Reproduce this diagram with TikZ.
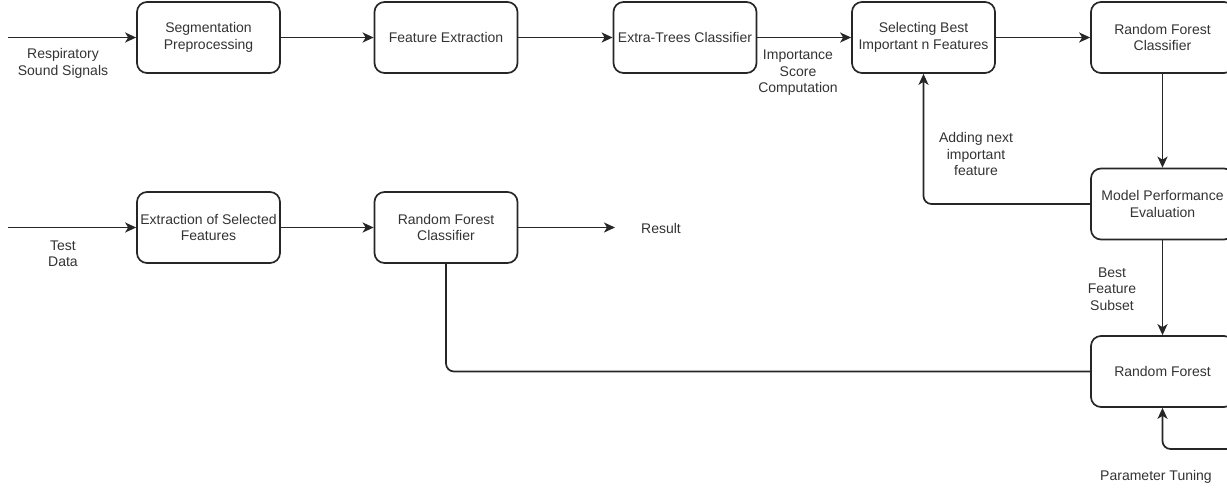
\documentclass[tikz,border=0pt]{standalone}
\usepackage{fontspec}
\setmainfont{Liberation Sans}
\usetikzlibrary{arrows.meta}
\begin{document}
\begin{tikzpicture}[x=1pt,y=-1pt,
  every node/.style={font=\fontsize{14}{16.5}\selectfont, text=black!80},
  box/.style={draw=black!85, line width=1.7pt, rounded corners=10pt, minimum width=143pt, minimum height=71pt, align=center, inner sep=0pt},
  lbl/.style={align=center, inner sep=0pt},
  conn/.style={draw=black!85, line width=1.7pt},
  arr/.style={conn, -{Stealth[length=11pt,width=10pt,inset=3pt]}}]
\useasboundingbox (0,0) rectangle (1227,488);
\begin{scope}
\clip (0,0) rectangle (1227,488);
% top row
\node[box] (seg) at (208.5,37.5) {Segmentation\\Preprocessing};
\node[box] (fe) at (446,37.5) {Feature Extraction};
\node[box] (et) at (685,37.5) {Extra-Trees Classifier};
\node[box] (sel) at (923.5,37.5) {Selecting Best\\Important n Features};
\node[box] (rfc) at (1162.5,37.5) {Random Forest\\Classifier};
% right column
\node[box] (mpe) at (1162.5,204) {Model Performance\\Evaluation};
\node[box] (rf) at (1162.5,371.5) {Random Forest};
% bottom row
\node[box] (esf) at (208.5,227.5) {Extraction of Selected\\Features};
\node[box] (rfb) at (446,227.5) {Random Forest\\Classifier};

% free ends
\coordinate (in1) at (8,37.5);
\coordinate (in2) at (8,227.5);
\coordinate (res) at (615,227.5);
\coordinate (pt) at (1240,449);

% labels
\node[lbl] (l1) at (63,63.5) {Respiratory\\Sound Signals};
\node[lbl] (l2) at (63,253.5) {Test\\Data};
\node[lbl] (l3) at (798,73) {Importance\\Score\\Computation};
\node[lbl] (l4) at (976,154) {Adding next\\important\\feature};
\node[lbl] (l5) at (1112,289) {Best\\Feature\\Subset};
\node[lbl] (l6) at (1156,477) {Parameter Tuning};
\node[lbl] (l7) at (661,228) {Result};

% connectors
\draw[arr] (in1) -- (seg.west);
\draw[arr] (seg.east) -- (fe.west);
\draw[arr] (fe.east) -- (et.west);
\draw[arr] (et.east) -- (sel.west);
\draw[arr] (sel.east) -- (rfc.west);
\draw[arr] (rfc.south) -- (mpe.north);
\draw[arr, rounded corners=8pt] (mpe.west) -| (sel.south);
\draw[arr] (mpe.south) -- (rf.north);
\draw[arr, rounded corners=8pt] (pt) -| (rf.south);
\draw[conn, rounded corners=8pt] (rf.west) -| (rfb.south);
\draw[arr] (in2) -- (esf.west);
\draw[arr] (esf.east) -- (rfb.west);
\draw[arr] (rfb.east) -- (res);
\end{scope}
\end{tikzpicture}
\end{document}
